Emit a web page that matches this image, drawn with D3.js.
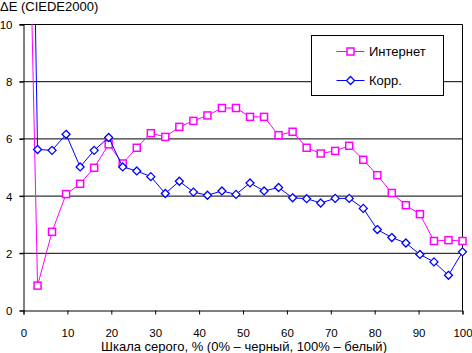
<!DOCTYPE html>
<html><head><meta charset="utf-8">
<script src="https://cdn.jsdelivr.net/npm/d3@7"></script>
<style>
body{margin:0;background:#fff;}
text{font-family:"Liberation Sans",Arial,sans-serif;font-size:13px;fill:#000;}
.tick text{font-size:11.5px;}
</style></head>
<body><svg id="c" width="472" height="353"></svg>
<script>
const grayPct = [0, 3.2, 6.5, 9.7, 12.9, 16.1, 19.4, 22.6, 25.8, 29.0, 32.3, 35.5, 38.7, 41.9, 45.2, 48.4, 51.6, 54.8, 58.1, 61.3, 64.5, 67.7, 71.0, 74.2, 77.4, 80.6, 83.9, 87.1, 90.3, 93.5, 96.8, 100];
const internet = [24, 0.87, 2.75, 4.07, 4.43, 4.99, 5.81, 5.14, 5.69, 6.2, 6.07, 6.42, 6.63, 6.82, 7.08, 7.08, 6.77, 6.77, 6.13, 6.25, 5.69, 5.49, 5.58, 5.76, 5.27, 4.73, 4.11, 3.68, 3.37, 2.43, 2.46, 2.43];
const korr = [35, 5.63, 5.60, 6.16, 5.02, 5.60, 6.05, 5.02, 4.88, 4.68, 4.09, 4.52, 4.14, 4.03, 4.18, 4.06, 4.46, 4.18, 4.30, 3.94, 3.91, 3.76, 3.92, 3.92, 3.57, 2.83, 2.55, 2.36, 1.96, 1.70, 1.23, 2.05];
const xTicks = [0, 10, 20, 30, 40, 50, 60, 70, 80, 90, 100];
const yTicks = [0, 2, 4, 6, 8, 10];
const seriesNames = ["Интернет", "Корр."];
const yTitle = "ΔE (CIEDE2000)";
const xTitle = "Шкала серого, % (0% – черный, 100% – белый)";

const svg = d3.select("#c");
const L = 23.5, R = 462.5, T = 24.5, B = 310.5;
const x = d3.scaleLinear().domain([0, 100]).range([L, R]);
const y = d3.scaleLinear().domain([0, 10]).range([B, T]);

svg.append("defs").append("clipPath").attr("id", "clip")
  .append("rect").attr("x", L - 5).attr("y", T - 0.5).attr("width", R - L + 10).attr("height", B - T + 5);

// gridlines
svg.append("g").selectAll("line").data(yTicks.filter(d => d > 0)).join("line")
  .attr("x1", L - 4).attr("x2", R).attr("y1", d => y(d)).attr("y2", d => y(d))
  .attr("stroke", "#000").attr("stroke-width", 1);
// right border
svg.append("line").attr("x1", R).attr("x2", R).attr("y1", T).attr("y2", B).attr("stroke", "#000");

// axes
const yAxis = d3.axisLeft(y).tickValues(yTicks).tickSize(4).tickPadding(8);
const gy = svg.append("g").attr("transform", `translate(${L},0)`).call(yAxis);
const xAxis = d3.axisBottom(x).tickValues(xTicks).tickSize(4).tickPadding(11);
const gx = svg.append("g").attr("transform", `translate(0,${B})`).call(xAxis);
[gx, gy].forEach(g => {
  g.select(".domain").attr("stroke", "#000");
  g.selectAll(".tick line").attr("stroke", "#000");
  g.selectAll("text").attr("font-family", null).attr("font-size", null).attr("fill", "#000");
});
gy.selectAll(".tick text").attr("x", -11).attr("dy", "0.35em");
gx.selectAll(".tick text").attr("y", 26.5).attr("dy", null);

// titles
svg.append("text").attr("x", 0).attr("y", 11).text(yTitle);
svg.append("text").attr("x", (L + R) / 2 + 1).attr("y", 351).attr("text-anchor", "middle").text(xTitle);

const plot = svg.append("g").attr("clip-path", "url(#clip)");
const line = d3.line().x((d, i) => x(grayPct[i])).y(d => y(d));
const colors = ["#FF00FF", "#0000FF"];
const series = [internet, korr];

function marker(g, type, color) {
  if (type === 0) {
    g.append("rect").attr("x", -3.5).attr("y", -3.5).attr("width", 7).attr("height", 7)
      .attr("fill", "#fff").attr("stroke", color).attr("stroke-width", 1.5);
  } else {
    g.append("path").attr("d", "M0,-4L4,0L0,4L-4,0Z")
      .attr("fill", "#fff").attr("stroke", color).attr("stroke-width", 1.3);
  }
}

series.forEach((vals, si) => {
  plot.append("path").datum(vals).attr("d", line)
    .attr("fill", "none").attr("stroke", colors[si]).attr("stroke-width", 1);
  plot.append("g").selectAll("g").data(vals).join("g")
    .attr("transform", (d, i) => `translate(${x(grayPct[i])},${y(d)})`)
    .each(function () { marker(d3.select(this), si, colors[si]); });
});

// legend
const lg = svg.append("g");
lg.append("rect").attr("x", 311.5).attr("y", 35.5).attr("width", 132).attr("height", 60)
  .attr("fill", "#fff").attr("stroke", "#000");
seriesNames.forEach((name, i) => {
  const ly = i === 0 ? 51.5 : 80.5;
  lg.append("line").attr("x1", 336.5).attr("x2", 364.5).attr("y1", ly).attr("y2", ly)
    .attr("stroke", colors[i]).attr("stroke-width", 1);
  const m = lg.append("g").attr("transform", `translate(350.5,${ly})`);
  marker(m, i, colors[i]);
  lg.append("text").attr("x", 369).attr("y", ly + 4.5).text(name);
});
</script></body></html>
